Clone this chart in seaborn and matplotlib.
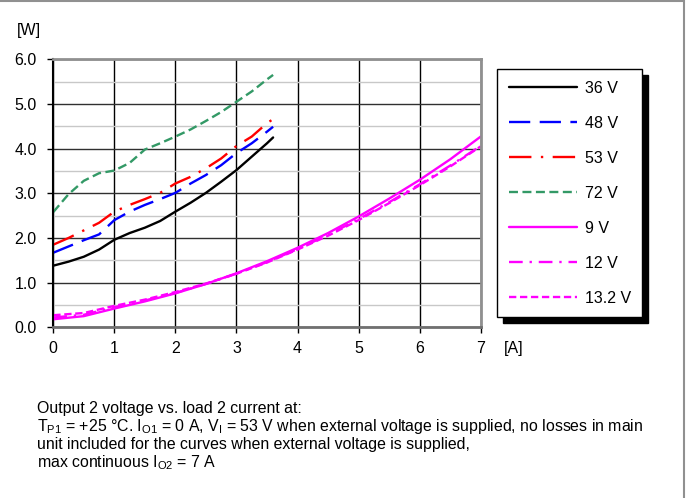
import numpy as np
import pandas as pd
import matplotlib
matplotlib.use("Agg")
import matplotlib.pyplot as plt
import seaborn as sns
from matplotlib.ticker import MultipleLocator, FormatStrFormatter
from matplotlib.lines import Line2D

sns.set_theme(style="white")
plt.rcParams['font.family'] = ['Liberation Sans', 'DejaVu Sans']
plt.rcParams['mathtext.fontset'] = 'custom'
plt.rcParams['mathtext.rm'] = 'Liberation Sans'
plt.rcParams['mathtext.it'] = 'Liberation Sans:italic'

# ---- data ----
x_hi = [0, 0.25, 0.5, 0.75, 1.0, 1.25, 1.5, 1.75, 2.0, 2.25, 2.5, 2.75, 3.0, 3.25, 3.5, 3.6]
p_36v = [1.38, 1.47, 1.58, 1.74, 1.96, 2.11, 2.23, 2.38, 2.59, 2.79, 3.01, 3.26, 3.52, 3.82, 4.12, 4.25]
p_48v = [1.67, 1.81, 1.95, 2.08, 2.40, 2.59, 2.74, 2.87, 3.01, 3.22, 3.41, 3.63, 3.90, 4.12, 4.38, 4.49]
p_53v = [1.85, 2.00, 2.17, 2.34, 2.59, 2.74, 2.87, 3.01, 3.22, 3.37, 3.56, 3.78, 4.06, 4.27, 4.57, 4.66]
p_72v = [2.58, 2.98, 3.28, 3.45, 3.51, 3.68, 3.98, 4.12, 4.27, 4.43, 4.62, 4.82, 5.05, 5.28, 5.55, 5.65]

x_lo = [0, 0.5, 1.0, 1.5, 2.0, 2.5, 3.0, 3.5, 4.0, 4.5, 5.0, 5.5, 6.0, 6.5, 7.0]
p_9v = [0.18, 0.25, 0.42, 0.58, 0.76, 0.97, 1.21, 1.48, 1.78, 2.11, 2.48, 2.88, 3.30, 3.76, 4.27]
p_12v = [0.22, 0.28, 0.45, 0.60, 0.77, 0.97, 1.20, 1.46, 1.75, 2.07, 2.42, 2.80, 3.20, 3.62, 4.06]
p_13v2 = [0.27, 0.32, 0.48, 0.62, 0.79, 0.98, 1.20, 1.45, 1.74, 2.05, 2.40, 2.78, 3.18, 3.60, 4.05]

labels = ["36 V", "48 V", "53 V", "72 V", "9 V", "12 V", "13.2 V"]
y_ticks = [0.0, 1.0, 2.0, 3.0, 4.0, 5.0, 6.0]
x_ticks = [0, 1, 2, 3, 4, 5, 6, 7]

series = [
    (x_hi, p_36v, "#000000", "-"),
    (x_hi, p_48v, "#0000FF", (0, (9, 4))),
    (x_hi, p_53v, "#FF0000", (0, (9.5, 4, 1, 4))),
    (x_hi, p_72v, "#339966", (0, (3.8, 1.9))),
    (x_lo, p_9v, "#FF00FF", "-"),
    (x_lo, p_12v, "#FF00FF", (0, (5.8, 2.9, 1, 2.9))),
    (x_lo, p_13v2, "#FF00FF", (0, (3.1, 1.55))),
]

fig = plt.figure(figsize=(6.91, 4.98), dpi=100)
W, H = 691, 498
ax = fig.add_axes([53.3 / W, 1 - 327.3 / H, (480.7 - 53.3) / W, (327.3 - 59.3) / H])

handles = []
for (xs, ys, col, ls), lab in zip(series, labels):
    df = pd.DataFrame({"x": xs, "y": ys})
    sns.lineplot(data=df, x="x", y="y", ax=ax, color=col, linestyle=ls,
                 linewidth=1.7, sort=False, label=lab, legend=False)
    handles.append(Line2D([], [], color=col, linestyle=ls, linewidth=1.7))

ax.set_xlim(0, 7)
ax.set_ylim(0, 6)
ax.set_xticks(x_ticks)
ax.set_yticks(y_ticks)
ax.yaxis.set_major_formatter(FormatStrFormatter('%.1f'))
ax.yaxis.set_minor_locator(MultipleLocator(0.5))
ax.set_xlabel("")
ax.set_ylabel("")

ax.grid(False)
ax.grid(which='major', axis='y', color='#303030', linewidth=1.0)
ax.grid(which='minor', axis='y', color='#c8c8c8', linewidth=1.0)
ax.grid(which='major', axis='x', color='#000000', linewidth=1.0)
ax.set_axisbelow(True)

ax.tick_params(axis='both', which='major', labelsize=11.5, length=4, width=1,
               color='#000000', labelcolor='#000000', direction='out')
ax.tick_params(axis='y', which='major', pad=8, left=True)
ax.tick_params(axis='x', which='major', pad=6, bottom=True)
ax.tick_params(axis='y', which='minor', left=False)

ax.spines['left'].set_color('#000000')
ax.spines['left'].set_linewidth(1.5)
ax.spines['bottom'].set_color('#707070')
ax.spines['bottom'].set_linewidth(2.0)
ax.spines['top'].set_color('#909090')
ax.spines['top'].set_linewidth(2.0)
ax.spines['right'].set_color('#909090')
ax.spines['right'].set_linewidth(2.0)

# axis unit labels
fig.text(29 / W, 1 - 31 / H, "[W]", fontsize=11.5, ha='center', va='center', color='#000000')
fig.text(514 / W, 1 - 348 / H, "[A]", fontsize=11.5, ha='center', va='center', color='#000000')

# legend
leg = fig.legend(handles, labels, loc='upper left',
                 bbox_to_anchor=(497.3 / W, 1 - 69.3 / H),
                 fontsize=11.5, frameon=True, fancybox=False,
                 handlelength=4.3, handletextpad=0.45, borderpad=0.72,
                 labelspacing=1.25, borderaxespad=0,
                 shadow={'ox': 4.3, 'oy': -4.3, 'color': 'black', 'alpha': 1})
leg.get_frame().set_edgecolor('#000000')
leg.get_frame().set_linewidth(1.0)
leg.get_frame().set_facecolor('white')
for t in leg.get_texts():
    t.set_color('#000000')

# caption
cap = [
    "Output 2 voltage vs. load 2 current at:",
    r"T$_{\mathrm{P1}}$ = +25 °C. I$_{\mathrm{O1}}$ = 0 A, V$_{\mathrm{I}}$ = 53 V when external voltage is supplied, no losses in main",
    "unit included for the curves when external voltage is supplied,",
    r"max continuous I$_{\mathrm{O2}}$ = 7 A",
]
baselines = [412.5, 430.8, 449.1, 467.4]
for line, b in zip(cap, baselines):
    fig.text(37 / W, 1 - b / H, line, fontsize=11.4, ha='left', va='baseline', color='#000000')

# outer frame lines (top and right)
fig.add_artist(Line2D([0, 684 / W], [1 - 1 / H, 1 - 1 / H], transform=fig.transFigure,
                      color='#909090', linewidth=1.5))
fig.add_artist(Line2D([684 / W, 684 / W], [0, 1], transform=fig.transFigure,
                      color='#909090', linewidth=1.5))

fig.savefig("out.png", dpi=100, facecolor='white')
